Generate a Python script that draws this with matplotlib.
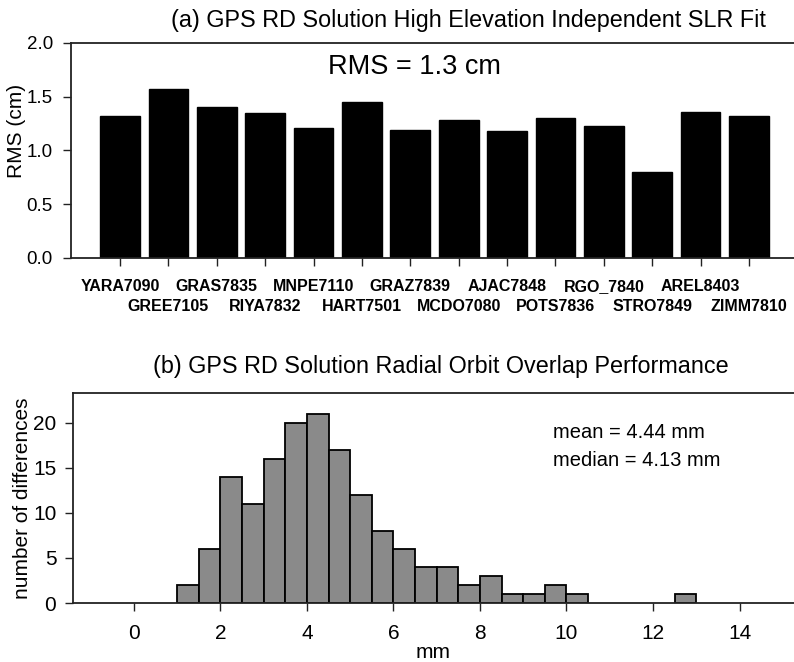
import matplotlib
matplotlib.use("Agg")
import matplotlib.pyplot as plt
import numpy as np

# station RMS of the independent SLR fit (cm)
stations = ["YARA7090", "GREE7105", "GRAS7835", "RIYA7832", "MNPE7110",
            "HART7501", "GRAZ7839", "MCDO7080", "AJAC7848", "POTS7836",
            "RGO_7840", "STRO7849", "AREL8403", "ZIMM7810"]
rms_cm = [1.32, 1.57, 1.40, 1.35, 1.21, 1.45, 1.19, 1.28, 1.18, 1.30,
          1.23, 0.80, 1.36, 1.32]

# orbit overlap histogram, 0.5 mm bins
bin_left = [1.0, 1.5, 2.0, 2.5, 3.0, 3.5, 4.0, 4.5, 5.0, 5.5, 6.0, 6.5,
            7.0, 7.5, 8.0, 8.5, 9.0, 9.5, 10.0, 12.5]
bin_count = [2, 6, 14, 11, 16, 20, 21, 17, 12, 8, 6, 4,
             4, 2, 3, 1, 1, 2, 1, 1]
bin_width = 0.5

plt.rcParams.update({
    "font.family": ["Liberation Sans", "DejaVu Sans"],
    "axes.linewidth": 1.3,
    "axes.edgecolor": "#222222",
    "xtick.color": "#222222",
    "ytick.color": "#222222",
    "xtick.labelcolor": "black",
    "ytick.labelcolor": "black",
})

fig = plt.figure(figsize=(7.94, 6.62), dpi=100)

# (a) bar chart
ax1 = fig.add_axes([0.0894, 0.6103, 0.9106, 0.3248])
pos = np.arange(len(stations))
ax1.bar(pos, rms_cm, width=0.82, color="black", edgecolor="black")
ax1.set_xlim(-1.013, 13.93)
ax1.set_ylim(0, 2.0)
ax1.set_yticks([0.0, 0.5, 1.0, 1.5, 2.0])
ax1.set_yticklabels(["0.0", "0.5", "1.0", "1.5", "2.0"], fontsize=13.5)
# station names alternate on two rows: even ones on major ticks, odd ones on minor
ax1.set_xticks(pos[::2])
ax1.set_xticklabels(stations[::2], fontsize=11.5, fontweight="bold")
ax1.set_xticks(pos[1::2], minor=True)
ax1.set_xticklabels(stations[1::2], minor=True, fontsize=11.5, fontweight="bold")
ax1.tick_params(axis="both", which="both", direction="out", length=6, width=1.0, pad=7)
ax1.tick_params(axis="x", which="major", pad=9)
ax1.tick_params(axis="x", which="minor", pad=23.5)
ax1.spines["right"].set_visible(False)
ax1.text(0.475, 0.89, "RMS = 1.3 cm", transform=ax1.transAxes,
         ha="center", va="center", fontsize=19.5)
fig.text(468 / 794, 1 - 20 / 662, "(a) GPS RD Solution High Elevation Independent SLR Fit",
         ha="center", va="center", fontsize=16.8)
fig.text(17 / 794, 1 - 131 / 662, "RMS (cm)", rotation=90,
         ha="center", va="center", fontsize=15)

# (b) histogram
ax2 = fig.add_axes([0.0919, 0.0891, 0.9081, 0.3172])
ax2.bar(bin_left, bin_count, width=bin_width, align="edge",
        color="#8a8a8a", edgecolor="black", linewidth=1.3)
ax2.set_xlim(-1.41, 15.26)
ax2.set_ylim(0, 23.3)
ax2.set_xticks(np.arange(0, 15, 2))
ax2.set_yticks([0, 5, 10, 15, 20])
ax2.tick_params(axis="both", direction="out", length=6, width=1.0, labelsize=15)
ax2.tick_params(axis="y", pad=6)
ax2.tick_params(axis="x", pad=9)
ax2.spines["right"].set_visible(False)
ax2.set_xlabel("mm", fontsize=15, labelpad=0)
ax2.text(553 / 794, 1 - 432 / 662, "mean = 4.44 mm", transform=fig.transFigure,
         ha="left", va="center", fontsize=14.5)
ax2.text(553 / 794, 1 - 461 / 662, "median = 4.13 mm", transform=fig.transFigure,
         ha="left", va="center", fontsize=14.5)
fig.text(441 / 794, 1 - 367 / 662, "(b) GPS RD Solution Radial Orbit Overlap Performance",
         ha="center", va="center", fontsize=16.8)
fig.text(23 / 794, 1 - 498 / 662, "number of differences", rotation=90,
         ha="center", va="center", fontsize=15)

fig.savefig("out.png", dpi=100)
